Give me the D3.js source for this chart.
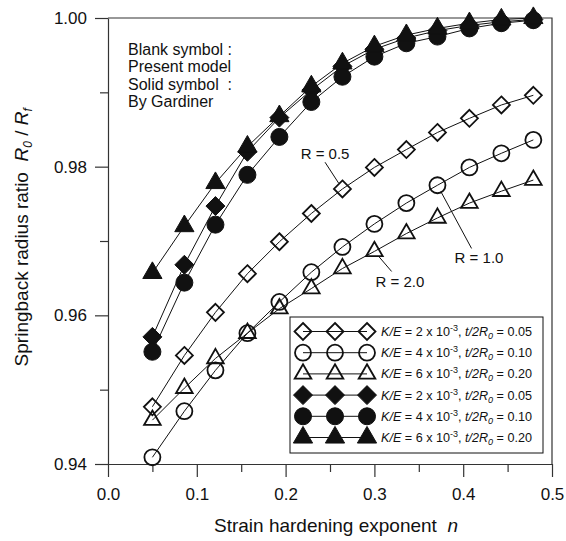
<!DOCTYPE html>
<html lang="en">
<head>
    <meta charset="UTF-8">
    <title>Springback radius ratio</title>
    <script src="https://d3js.org/d3.v7.min.js"></script>
    <style>
        body { margin: 0; background: #fff; }
        svg text { font-family: "Liberation Sans", Arial, sans-serif; fill: #111; }
    </style>
</head>
<body>
    <svg id="canvas" width="566" height="541"></svg>
    <script>
        // strain hardening exponent n (x values shared by all curves)
        let nValues = [0.050, 0.086, 0.121, 0.157, 0.193, 0.229, 0.264, 0.300, 0.336, 0.371, 0.407, 0.443, 0.479];

        // present model (blank symbols)
        let presentR05 = [0.9477, 0.9546, 0.9604, 0.9656, 0.9699, 0.9737, 0.9770, 0.9799, 0.9823, 0.9846, 0.9865, 0.9883, 0.9896];
        let presentR10 = [0.9409, 0.9471, 0.9526, 0.9576, 0.9618, 0.9658, 0.9692, 0.9723, 0.9751, 0.9775, 0.9799, 0.9818, 0.9836];
        let presentR20 = [0.9459, 0.9502, 0.9542, 0.9576, 0.9609, 0.9636, 0.9663, 0.9686, 0.9710, 0.9731, 0.9751, 0.9767, 0.9782];

        // Gardiner (solid symbols)
        let gardinerR05 = [0.9571, 0.9668, 0.9747, 0.9820, 0.9866, 0.9903, 0.9935, 0.9958, 0.9973, 0.9983, 0.9990, 0.9995, 0.9998];
        let gardinerR10 = [0.9551, 0.9644, 0.9722, 0.9789, 0.9840, 0.9887, 0.9921, 0.9948, 0.9966, 0.9975, 0.9986, 0.9993, 0.9997];
        let gardinerR20 = [0.9657, 0.9720, 0.9778, 0.9827, 0.9868, 0.9908, 0.9939, 0.9962, 0.9977, 0.9986, 0.9993, 0.9998, 1.0000];

        let keLabels = ["2", "4", "6", "2", "4", "6"];
        let trLabels = ["0.05", "0.10", "0.20", "0.05", "0.10", "0.20"];

        let xMajor = [0, 0.1, 0.2, 0.3, 0.4, 0.5];
        let xMinor = [0.05, 0.15, 0.25, 0.35, 0.45];
        let yMajor = [0.94, 0.96, 0.98, 1.00];
        let yMinor = [0.95, 0.97, 0.99];

        let notes = ["Blank symbol :", "Present model", "Solid symbol  :", "By Gardiner"];

        // R labels: label centre (n, v), leader start (n, v), series + point the leader goes to
        let rLabels = [
            { text: "R = 0.5", n: 0.2444, v: 0.9818, ln: 0.2444, lv: 0.9806, series: 0, idx: 6 },
            { text: "R = 1.0", n: 0.4178, v: 0.9678, ln: 0.4094, lv: 0.9690, series: 1, idx: 9 },
            { text: "R = 2.0", n: 0.3288, v: 0.9645, ln: 0.3194, lv: 0.9659, series: 2, idx: 7 }
        ];

        let series = [
            { values: presentR05, shape: "diamond", solid: false },
            { values: presentR10, shape: "circle", solid: false },
            { values: presentR20, shape: "triangle", solid: false },
            { values: gardinerR05, shape: "diamond", solid: true },
            { values: gardinerR10, shape: "circle", solid: true },
            { values: gardinerR20, shape: "triangle", solid: true }
        ];

        let canvas = d3.select("#canvas");
        let ink = "#111";

        let x = d3.scaleLinear().domain([0, 0.5]).range([108, 552]);
        let y = d3.scaleLinear().domain([0.94, 1.0]).range([464, 18]);

        let drawMarker = (g, shape, solid, cx, cy) => {
            let el;
            if (shape === "circle") {
                el = g.append("circle").attr("cx", cx).attr("cy", cy).attr("r", solid ? 8.5 : 8);
            } else if (shape === "diamond") {
                let h = solid ? 9.5 : 8.5;
                el = g.append("path").attr("d", `M${cx},${cy - h}L${cx + h},${cy}L${cx},${cy + h}L${cx - h},${cy}Z`);
            } else {
                el = g.append("path")
                    .attr("transform", `translate(${cx},${cy})`)
                    .attr("d", d3.symbol(d3.symbolTriangle, solid ? 160 : 120)());
            }
            el.attr("fill", solid ? ink : "none")
                .attr("stroke", ink)
                .attr("stroke-width", solid ? 1 : 1.8);
        };

        // axes
        let styleAxis = (g) => {
            g.selectAll("path, line").attr("stroke", "#333").attr("stroke-width", 1.2);
            g.selectAll("text").attr("font-size", 17).attr("fill", ink)
                .style("font-family", "'Liberation Sans', Arial, sans-serif");
        };

        canvas.append("g")
            .attr("transform", `translate(0, ${y(0.94)})`)
            .call(d3.axisBottom(x).tickValues(xMajor).tickSize(13).tickSizeOuter(0).tickPadding(11).tickFormat(d3.format(".1f")))
            .call(styleAxis);
        canvas.append("g")
            .attr("transform", `translate(0, ${y(0.94)})`)
            .call(d3.axisBottom(x).tickValues(xMinor).tickSize(8).tickFormat(""))
            .call(g => g.select(".domain").remove())
            .call(styleAxis);

        canvas.append("g")
            .attr("transform", `translate(${x(0)}, 0)`)
            .call(d3.axisLeft(y).tickValues(yMajor).tickSize(13).tickSizeOuter(0).tickPadding(8).tickFormat(d3.format(".2f")))
            .call(styleAxis);
        canvas.append("g")
            .attr("transform", `translate(${x(0)}, 0)`)
            .call(d3.axisLeft(y).tickValues(yMinor).tickSize(8).tickFormat(""))
            .call(g => g.select(".domain").remove())
            .call(styleAxis);

        // top and right frame
        canvas.append("path")
            .attr("d", `M${x(0)},${y(1)}H${x(0.5)}V${y(0.94)}`)
            .attr("fill", "none")
            .attr("stroke", "#333")
            .attr("stroke-width", 1.2);

        // axis titles
        let xTitle = canvas.append("text")
            .attr("x", x(0.25) + 6)
            .attr("y", 532)
            .attr("text-anchor", "middle")
            .attr("font-size", 19);
        xTitle.append("tspan").text("Strain hardening exponent\u00a0\u00a0");
        xTitle.append("tspan").attr("font-style", "italic").text("n");

        let yTitle = canvas.append("text")
            .attr("transform", `translate(28, ${y(0.9705)}) rotate(-90)`)
            .attr("text-anchor", "middle")
            .attr("font-size", 19);
        yTitle.append("tspan").text("Springback radius ratio\u00a0\u00a0");
        yTitle.append("tspan").attr("font-style", "italic").text("R");
        yTitle.append("tspan").attr("font-size", 12).attr("dy", 4).attr("font-style", "italic").text("0");
        yTitle.append("tspan").attr("dy", -4).text(" / ");
        yTitle.append("tspan").attr("font-style", "italic").text("R");
        yTitle.append("tspan").attr("font-size", 12).attr("dy", 4).attr("font-style", "italic").text("f");

        // curves
        let line = d3.line()
            .x((d, i) => x(nValues[i]))
            .y((d) => y(d));

        canvas.append("g")
            .selectAll("path")
            .data(series)
            .enter()
            .append("path")
            .attr("d", (s) => line(s.values))
            .attr("fill", "none")
            .attr("stroke", ink)
            .attr("stroke-width", 1);

        // R label leaders and text
        rLabels.forEach((r) => {
            let s = series[r.series];
            let tx = x(nValues[r.idx]), ty = y(s.values[r.idx]);
            let sx = x(r.ln), sy = y(r.lv);
            let len = Math.hypot(tx - sx, ty - sy);
            let cut = 7;
            canvas.append("line")
                .attr("x1", sx).attr("y1", sy)
                .attr("x2", tx - (tx - sx) * cut / len)
                .attr("y2", ty - (ty - sy) * cut / len)
                .attr("stroke", ink)
                .attr("stroke-width", 1);
            canvas.append("text")
                .attr("x", x(r.n))
                .attr("y", y(r.v))
                .attr("dy", "0.35em")
                .attr("text-anchor", "middle")
                .attr("font-size", 15)
                .text(r.text);
        });

        // markers
        let markers = canvas.append("g");
        series.forEach((s) => {
            s.values.forEach((v, i) => drawMarker(markers, s.shape, s.solid, x(nValues[i]), y(v)));
        });

        // symbol note
        canvas.append("g")
            .selectAll("text")
            .data(notes)
            .enter()
            .append("text")
            .attr("x", 128)
            .attr("y", (d, i) => 55 + i * 17.3)
            .attr("font-size", 16)
            .style("white-space", "pre")
            .text((d) => d);

        // legend
        let rowY = d3.scalePoint().domain(d3.range(series.length)).range([331.5, 437.5]);
        let legend = canvas.append("g");
        legend.append("rect")
            .attr("x", 290).attr("y", 317)
            .attr("width", 253).attr("height", 136)
            .attr("fill", "#fff")
            .attr("stroke", ink)
            .attr("stroke-width", 1);

        series.forEach((s, i) => {
            let ry = rowY(i);
            legend.append("line")
                .attr("x1", 303).attr("x2", 367)
                .attr("y1", ry).attr("y2", ry)
                .attr("stroke", ink).attr("stroke-width", 1);
            [303, 335, 367].forEach((mx) => drawMarker(legend, s.shape, s.solid, mx, ry));

            let t = legend.append("text")
                .attr("x", 381)
                .attr("y", ry)
                .attr("dy", "0.35em")
                .attr("font-size", 12.6);
            t.append("tspan").attr("font-style", "italic").text("K/E");
            t.append("tspan").text(` = ${keLabels[i]} x 10`);
            t.append("tspan").attr("font-size", 9).attr("dy", -5).text("-3");
            t.append("tspan").attr("dy", 5).text(", ");
            t.append("tspan").attr("font-style", "italic").text("t/2R");
            t.append("tspan").attr("font-style", "italic").attr("font-size", 9).attr("dy", 3).text("0");
            t.append("tspan").attr("dy", -3).text(` = ${trLabels[i]}`);
        });
    </script>
</body>
</html>
